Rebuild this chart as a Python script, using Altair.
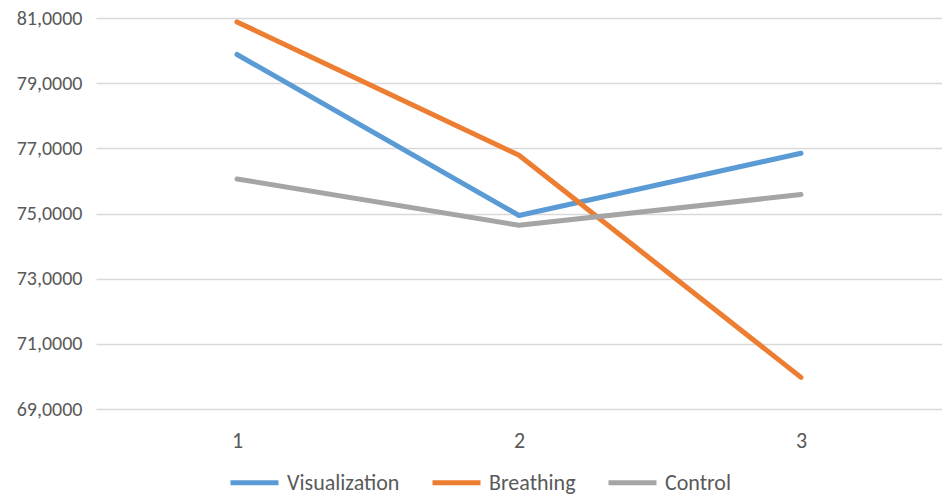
import altair as alt
import pandas as pd

sessions = ["1", "2", "3"]
series_names = ["Visualization", "Breathing", "Control"]
visualization = [79.88, 74.94, 76.85]
breathing = [80.88, 76.79, 69.97]
control = [76.06, 74.64, 75.58]
colors = ["#5B9BD5", "#ED7D31", "#A5A5A5"]

rows = []
for name, vals in zip(series_names, [visualization, breathing, control]):
    for s, v in zip(sessions, vals):
        rows.append({"session": s, "value": v, "series": name})
df = pd.DataFrame(rows)

FONT = "Carlito, Lato"
TXT = "#595959"

chart = alt.Chart(df).mark_line(strokeWidth=5, strokeCap="round", strokeJoin="round").encode(
    x=alt.X("session:N", sort=sessions,
            scale=alt.Scale(type="point", padding=0.5),
            axis=alt.Axis(title=None, labelAngle=0, domain=False, ticks=False, grid=False,
                          labelPadding=21, labelFontSize=22, labelFont=FONT, labelColor=TXT)),
    y=alt.Y("value:Q", scale=alt.Scale(domain=[69, 81], nice=False, zero=False),
            axis=alt.Axis(title=None, values=[69, 71, 73, 75, 77, 79, 81], domain=False, ticks=False,
                          grid=True, gridColor="#D9D9D9", gridWidth=1.5,
                          labelExpr="replace(format(datum.value, '.4f'), '.', ',')",
                          labelPadding=14, labelFontSize=20, labelFont=FONT, labelColor=TXT)),
    color=alt.Color("series:N", sort=series_names,
                    scale=alt.Scale(domain=series_names, range=colors),
                    legend=alt.Legend(title=None, orient="none", legendX=132, legendY=438,
                                      direction="horizontal", symbolType="stroke",
                                      symbolSize=2304, symbolStrokeWidth=5,
                                      labelFont=FONT, labelFontSize=22, labelColor=TXT,
                                      labelOffset=6, columnPadding=22)),
).properties(
    width=846, height=391,
    autosize=alt.AutoSizeParams(type="none"),
    padding={"left": 88, "top": 10, "right": 0, "bottom": 87},
).configure_view(stroke=None)

chart.save("out.html", embed_options={"renderer": "svg", "actions": False})
